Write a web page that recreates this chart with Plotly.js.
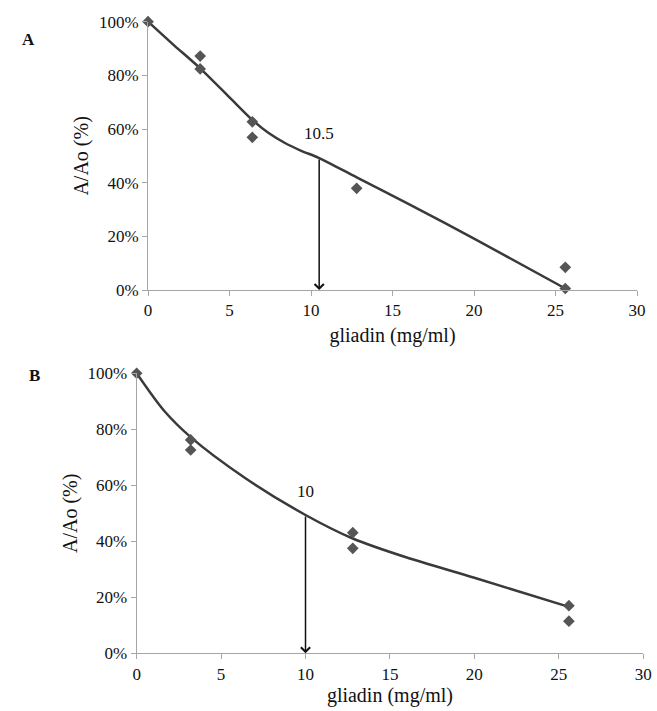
<!DOCTYPE html>
<html>
<head>
<meta charset="utf-8">
<script src="https://cdn.plot.ly/plotly-3.0.1.min.js"></script>
<style>html,body{margin:0;padding:0;background:#fff;}#chart{width:657px;height:711px;}</style>
</head>
<body>
<div id="chart"></div>
<script>
// Panel A data
var A_x = [0, 3.2, 3.2, 6.4, 6.4, 12.8, 25.6, 25.6];
var A_y = [1.00, 0.872, 0.824, 0.627, 0.569, 0.379, 0.085, 0.006];
var A_fit_x = [0, 1.6, 3.2, 5.0, 6.4, 7.4, 8.4, 9.4, 10.5, 12.8, 16, 20, 25.6];
var A_fit_y = [1.00, 0.912, 0.826, 0.718, 0.634, 0.585, 0.548, 0.519, 0.492, 0.42, 0.32, 0.192, 0.006];
var A_ic50 = 10.5, A_ic50_y = 0.492, A_label = "10.5";

// Panel B data
var B_x = [0, 3.2, 3.2, 12.8, 12.8, 25.6, 25.6];
var B_y = [1.00, 0.762, 0.726, 0.431, 0.375, 0.170, 0.115];
var B_fit_x = [0, 1.6, 3.2, 6.4, 10, 12.8, 16, 20, 25.6];
var B_fit_y = [1.00, 0.868, 0.772, 0.627, 0.494, 0.41, 0.342, 0.27, 0.166];
var B_ic50 = 10, B_ic50_y = 0.494, B_label = "10";

var xTicks = [0, 5, 10, 15, 20, 25, 30];
var yTicks = [0, 0.2, 0.4, 0.6, 0.8, 1.0];

var serif = "'Liberation Serif', 'Times New Roman', Times, serif";
var markerStyle = {symbol: 'diamond', size: 9, color: '#555555'};
var lineStyle = {color: '#3a3a3a', width: 2.5, shape: 'spline', smoothing: 0.8};

var traces = [
  {x: A_fit_x, y: A_fit_y, mode: 'lines', line: lineStyle, xaxis: 'x', yaxis: 'y', hoverinfo: 'skip', cliponaxis: false},
  {x: A_x, y: A_y, mode: 'markers', marker: markerStyle, xaxis: 'x', yaxis: 'y', cliponaxis: false},
  {x: B_fit_x, y: B_fit_y, mode: 'lines', line: lineStyle, xaxis: 'x2', yaxis: 'y2', hoverinfo: 'skip', cliponaxis: false},
  {x: B_x, y: B_y, mode: 'markers', marker: markerStyle, xaxis: 'x2', yaxis: 'y2', cliponaxis: false}
];

function xAxis(domain, anchor, standoff) {
  return {
    domain: domain, anchor: anchor, range: [0, 30], tickvals: xTicks,
    showline: true, linecolor: '#a6a6a6', linewidth: 1,
    ticks: 'outside', ticklen: 5, tickcolor: '#a6a6a6',
    showgrid: false, zeroline: false,
    tickfont: {family: serif, size: 17, color: '#111'},
    title: {text: 'gliadin (mg/ml)', font: {family: serif, size: 20, color: '#111'}, standoff: standoff}
  };
}
function yAxis(domain, anchor, standoff) {
  return {
    domain: domain, anchor: anchor, range: [0, 1], tickvals: yTicks, tickformat: '.0%',
    showline: true, linecolor: '#a6a6a6', linewidth: 1,
    ticks: 'outside', ticklen: 5, tickcolor: '#a6a6a6',
    showgrid: false, zeroline: false,
    tickfont: {family: serif, size: 17, color: '#111'},
    title: {text: 'A/Ao (%)', font: {family: serif, size: 20, color: '#111'}, standoff: standoff}
  };
}

var layout = {
  width: 657, height: 711,
  margin: {l: 0, r: 0, t: 0, b: 0},
  paper_bgcolor: '#ffffff', plot_bgcolor: '#ffffff',
  showlegend: false,
  font: {family: serif},
  xaxis: xAxis([0.2253, 0.9696], 'y', 8),
  yaxis: yAxis([0.592, 0.9695], 'x', 4),
  xaxis2: xAxis([0.208, 0.979], 'y2', 5),
  yaxis2: yAxis([0.0811, 0.475], 'x2', 4),
  annotations: [
    {x: A_ic50, y: 0, ax: A_ic50, ay: A_ic50_y, xref: 'x', yref: 'y', axref: 'x', ayref: 'y',
     showarrow: true, arrowhead: 4, arrowsize: 1.2, arrowwidth: 1.5, arrowcolor: '#111', text: ''},
    {x: A_ic50, y: 0.585, xref: 'x', yref: 'y', text: A_label, showarrow: false,
     font: {family: serif, size: 17, color: '#111'}},
    {x: B_ic50, y: 0, ax: B_ic50, ay: B_ic50_y, xref: 'x2', yref: 'y2', axref: 'x2', ayref: 'y2',
     showarrow: true, arrowhead: 4, arrowsize: 1.2, arrowwidth: 1.5, arrowcolor: '#111', text: ''},
    {x: B_ic50, y: 0.577, xref: 'x2', yref: 'y2', text: B_label, showarrow: false,
     font: {family: serif, size: 17, color: '#111'}},
    {x: 20 / 657, y: 1 - 28 / 711, xref: 'paper', yref: 'paper', text: '<b>A</b>', showarrow: false,
     font: {family: serif, size: 17, color: '#111'}},
    {x: 27 / 657, y: 1 - 375 / 711, xref: 'paper', yref: 'paper', text: '<b>B</b>', showarrow: false,
     font: {family: serif, size: 17, color: '#111'}}
  ]
};

Plotly.newPlot('chart', traces, layout, {displayModeBar: false, staticPlot: true});
</script>
</body>
</html>
